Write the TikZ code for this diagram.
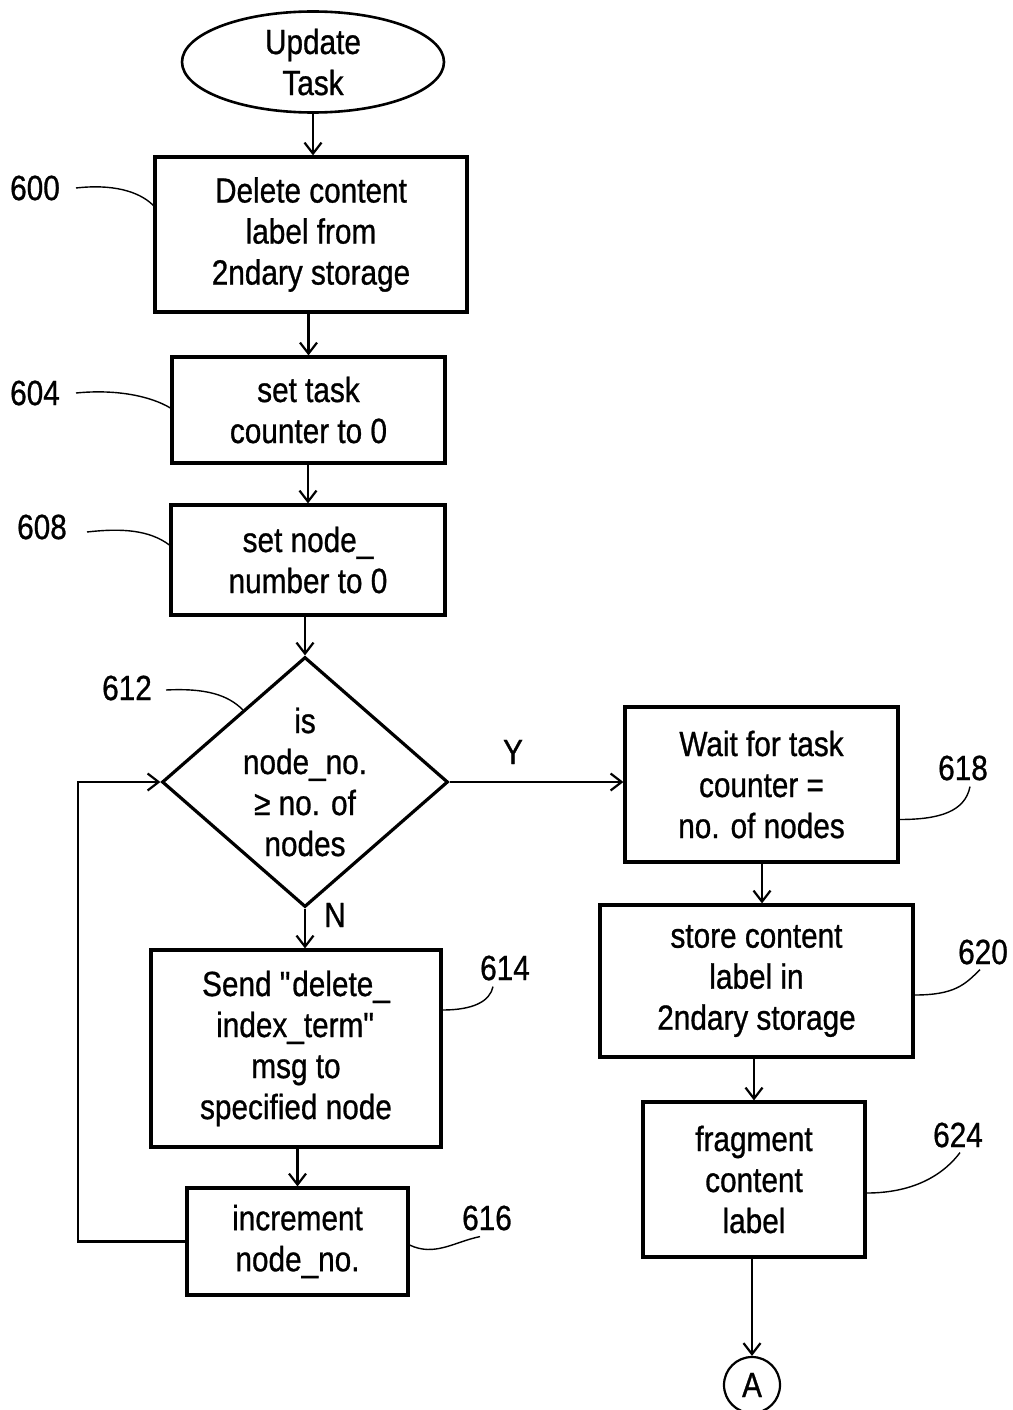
\documentclass[tikz,border=0pt]{standalone}
\usepackage{fontspec}
\setmainfont{Liberation Sans}[FakeStretch=0.85,FakeBold=0.8]
\usetikzlibrary{shapes.geometric,arrows.meta,calc}
\tikzset{
  txt/.style={font=\fontsize{35}{41}\selectfont, align=center, inner sep=0pt},
  box/.style={txt, draw, line width=3.2pt},
  flow/.style={line width=2.2pt, -{Straight Barb[length=11pt,width=17pt]}},
  leader/.style={line width=1.4pt},
  num/.style={txt}
}
\begin{document}
\begin{tikzpicture}[x=1pt,y=-1pt]
\useasboundingbox (0,0) rectangle (1012,1410);
% nodes
\node[txt, draw, line width=2.6pt, ellipse, minimum width=262pt, minimum height=101pt] (start) at (313,62) {Update\\Task};
\node[box, minimum width=312pt, minimum height=155pt] (b600) at (311,234.5) {Delete content\\label from\\2ndary storage};
\node[box, minimum width=273pt, minimum height=106pt] (b604) at (308.5,410) {set task\\counter to 0};
\node[box, minimum width=274pt, minimum height=110pt] (b608) at (308,560) {set node\_\\number to 0};
\node[draw, diamond, line width=3.2pt, minimum width=286pt, minimum height=250pt, inner sep=0pt] (d612) at (305,782) {};
\node[txt] (d612t) at (305,782) {is\\node\_no.\\≥ no. of\\nodes};
\node[box, minimum width=273pt, minimum height=155pt] (b618) at (761.5,784.5) {Wait for task\\counter =\\no. of nodes};
\node[box, minimum width=313pt, minimum height=152pt] (b620) at (756.5,981) {store content\\label in\\2ndary storage};
\node[box, minimum width=222pt, minimum height=155pt] (b624) at (754,1179.5) {fragment\\content\\label};
\node[box, minimum width=290pt, minimum height=197pt] (b614) at (296,1048.5) {Send \textquotedbl delete\_\\index\_term\textquotedbl\\msg to\\specified node};
\node[box, minimum width=221pt, minimum height=107pt] (b616) at (297.5,1241.5) {increment\\node\_no.};
\node[txt, draw, circle, line width=2.2pt, minimum size=56pt] (A) at (752,1385) {A};
% reference numbers
\node[num] (l600) at (35,188) {600};
\node[num] (l604) at (35,393) {604};
\node[num] (l608) at (42,527) {608};
\node[num] (l612) at (127,688) {612};
\node[num] (l618) at (963,768) {618};
\node[num] (l620) at (983,952) {620};
\node[num] (l624) at (958,1135) {624};
\node[num] (l614) at (505,968) {614};
\node[num] (l616) at (487,1218) {616};
\node[txt] (Y) at (513,752) {Y};
\node[txt] (N) at (335,915) {N};
% flow connectors
\coordinate (rx) at (762,0);
\coordinate (loopx) at (78,0);
\draw[flow] (start.south) -- (start.south |- b600.north);
\draw[flow] (b604.north |- b600.south) -- (b604.north);
\draw[flow] (b608.north |- b604.south) -- (b608.north);
\draw[flow] (d612.north |- b608.south) -- (d612.north);
\draw[flow] (d612.east) -- (d612.east -| b618.west);
\draw[flow] (d612.south) -- (d612.south |- b614.north);
\draw[flow] (b616.north |- b614.south) -- (b616.north);
\draw[flow] (rx |- b618.south) -- (rx |- b620.north);
\draw[flow] (b624.north |- b620.south) -- (b624.north);
\draw[flow] (A.north |- b624.south) -- (A.north);
\draw[flow] (b616.west) -- (b616.west -| loopx) -- (loopx |- d612.west) -- (d612.west);
% leaders
\draw[leader] ([xshift=16pt]l600.east) .. controls +(35,-4) and +(-15,-15) .. ([yshift=29pt]b600.west);
\draw[leader] ([xshift=16pt]l604.east) .. controls +(40,-4) and +(-20,-12) .. ([yshift=2pt]b604.west);
\draw[leader] ([xshift=20pt,yshift=-5pt]l608.east) .. controls +(35,-4) and +(-20,-15) .. ([yshift=15pt]b608.west);
\draw[leader] ([xshift=14pt,yshift=-2pt]l612.east) .. controls +(40,-2) and +(-15,-15) .. ($(d612.west)!0.57!(d612.north)$);
\draw[leader] ([yshift=-35pt]b618.east) .. controls +(40,0) and +(-5,25) .. ([xshift=7pt,yshift=-6pt]l618.south);
\draw[leader] ([yshift=-14pt]b620.east) .. controls +(40,0) and +(-15,15) .. ([xshift=-3pt,yshift=-5pt]l620.south);
\draw[leader] ([yshift=-13.5pt]b624.east) .. controls +(50,0) and +(-15,20) .. ([xshift=2pt,yshift=-5pt]l624.south);
\draw[leader] ([yshift=38.5pt]b614.east) .. controls +(30,0) and +(-3,15) .. ([xshift=-12pt,yshift=-6pt]l614.south);
\draw[leader] ([yshift=-3.5pt]b616.east) .. controls +(25,12) and +(-25,5) .. ([xshift=-7pt,yshift=-6pt]l616.south);
\end{tikzpicture}
\end{document}
